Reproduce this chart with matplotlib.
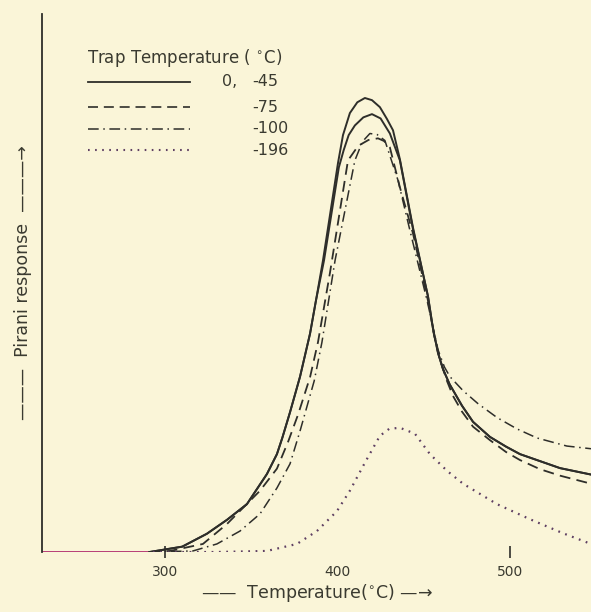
import numpy as np
import matplotlib
matplotlib.use("Agg")
import matplotlib.pyplot as plt

# Pirani response vs temperature (arbitrary units)
base_T = [228.7, 292.0]
base_R = [0.0, 0.0]

solid_a_T = [291, 310, 324.3, 336, 347.5, 359.1, 364.9, 368, 372.5, 378.3, 384.1, 387.5,
             391.6, 400.3, 403.2, 407.2, 411.5, 415.9, 420, 424.6, 428.7, 432.2, 436.2,
             443.8, 452.5, 455.4, 458.3, 461.2, 465, 472.2, 478.6, 488.4, 497.7, 505.8,
             529, 547]
solid_a_R = [0, 1.0, 3.4, 6.0, 8.9, 14.5, 18.2, 21.2, 26.0, 32.6, 40.6, 46.7,
             54.2, 72.3, 77.5, 81.6, 83.6, 84.4, 84.0, 82.7, 80.5, 78.4, 73.0,
             60.3, 47.5, 41.5, 37.0, 34.0, 31.2, 27.2, 24.2, 21.4, 19.6, 18.2,
             15.6, 14.4]

solid_b_T = [291, 310, 324.3, 336, 347.5, 359.1, 364.9, 368, 372.5, 378.3, 384.1, 387.5,
             392.2, 400.8, 403.6, 406.5, 410.1, 415, 420, 425, 430.4, 436.2,
             443.8, 452.5, 455.4, 458.3, 461.2, 465, 472.2, 478.6, 488.4, 497.7, 505.8,
             529, 547]
solid_b_R = [0, 1.0, 3.4, 6.0, 8.9, 14.5, 18.2, 21.2, 26.0, 32.6, 40.6, 46.7,
             54.2, 71.5, 74.7, 77.5, 79.3, 80.8, 81.4, 80.6, 77.8, 72.8,
             60.0, 47.5, 41.5, 37.0, 34.0, 31.2, 27.2, 24.2, 21.4, 19.6, 18.2,
             15.6, 14.4]

dash_T = [291, 302.9, 322, 335.9, 345.2, 355.1, 364.9, 371.5, 377.1, 384.1, 388.7, 395.7,
          406.1, 412, 418, 423.5, 427, 430.4, 436.2, 443.8, 452.5, 456, 459.4, 463.5,
          467, 472.2, 478.6, 488.4, 497.7, 505.8, 517.4, 529, 544.6, 547]
dash_R = [0, 0.2, 1.5, 5.2, 8.2, 11.4, 15.5, 20.6, 25.5, 32.5, 39.0, 52.0,
          72.8, 75.5, 76.6, 76.9, 76.4, 75.2, 67.8, 59.2, 46.7, 40.3, 35.8, 31.8,
          29.0, 26.1, 23.3, 20.8, 18.6, 17.1, 15.4, 14.2, 12.9, 12.7]

dashdot_T = [291, 316.2, 330.1, 343.5, 355.1, 364.9, 372.5, 378.3, 386.5, 391, 398.6,
             410.1, 414.5, 418.8, 423, 427.5, 435.1, 442, 452, 458.3, 462, 465.2, 472.8,
             481.4, 492.5, 504, 515.7, 533, 547]
dashdot_R = [0, 0.2, 1.5, 3.9, 7.1, 11.9, 16.4, 22.5, 31.8, 39.0, 54.2,
             72.8, 76.3, 77.8, 77.6, 76.5, 69.1, 59.8, 46.7, 37.6, 34.4, 32.6, 30.0,
             27.6, 25.0, 22.9, 21.2, 19.7, 19.2]

dot_T = [293, 330, 359.1, 376.5, 388.1, 399.7, 407.2, 415.9, 424.6, 430, 436.2, 444.9,
         453.6, 463.5, 472.8, 492.5, 511.6, 530.7, 547]
dot_R = [0, 0, 0.2, 1.5, 3.9, 7.6, 11.4, 16.6, 21.6, 22.9, 23.1, 22.0,
         18.2, 15.1, 12.7, 8.9, 6.1, 3.5, 1.5]

trap_labels = ["0, -45", "-75", "-100", "-196"]
xticks = [300, 400, 500]

bg = "#faf5d8"
ink = "#2e2e2a"
txt = "#3a3a30"

fig = plt.figure(figsize=(5.91, 6.12), dpi=100, facecolor=bg)
ax = fig.add_axes([0.0711, 0.098, 0.9289, 0.879])
ax.set_facecolor(bg)

ax.plot(base_T, base_R, color="#b3306f", lw=1.3, solid_capstyle="butt")
ax.plot(solid_a_T, solid_a_R, color=ink, lw=1.4, ls="-")
ax.plot(solid_b_T, solid_b_R, color=ink, lw=1.4, ls="-")
ax.plot(dash_T, dash_R, color=ink, lw=1.3, ls=(0, (6, 3.5)))
ax.plot(dashdot_T, dashdot_R, color=ink, lw=1.1, ls=(0, (7, 3, 1, 3)))
ax.plot(dot_T, dot_R, color="#5e3f62", lw=1.6, ls=(0, (0.8, 2.5)))

ax.set_xlim(228.7, 547)
ax.set_ylim(0, 100)

for s in ["top", "right", "bottom"]:
    ax.spines[s].set_visible(False)
ax.spines["left"].set_color(ink)
ax.spines["left"].set_linewidth(1.3)

ax.set_yticks([])
ax.set_xticks(xticks)
ax.set_xticklabels([str(t) for t in xticks], fontsize=10, color=txt)
ax.tick_params(axis="x", direction="inout", length=9, width=1.2, color=ink, pad=5)
ax.xaxis.get_major_ticks()[1].tick1line.set_visible(False)

ax.set_xlabel("——  Temperature($^{\\circ}$C) —→", fontsize=12.5, color=txt, labelpad=2)
ax.set_ylabel("———  Pirani response  ———→", fontsize=12.5, color=txt, labelpad=7)

# hand-drawn legend in the upper left
ax.text(0.082, 0.918, "Trap Temperature ( $^{\\circ}$C)", transform=ax.transAxes,
        fontsize=12, color=txt, ha="left", va="center")
styles = [dict(ls="-", lw=1.3, color=ink),
          dict(ls=(0, (6, 3.5)), lw=1.2, color=ink),
          dict(ls=(0, (7, 3, 1, 3)), lw=1.1, color=ink),
          dict(ls=(0, (0.8, 2.6)), lw=1.5, color="#5e3f62")]
rows = [0.874, 0.827, 0.787, 0.747]
for lab, st, yy in zip(trap_labels, styles, rows):
    ax.plot([0.084, 0.27], [yy, yy], transform=ax.transAxes, **st)
    if "," in lab:
        head, tail = lab.split(",")
        ax.text(0.328, yy, head + ",", transform=ax.transAxes, fontsize=11.5,
                color=txt, ha="left", va="center")
        lab = tail.strip()
    ax.text(0.383, yy, lab, transform=ax.transAxes, fontsize=11.5,
            color=txt, ha="left", va="center")

fig.savefig("out.png", dpi=100, facecolor=bg)
